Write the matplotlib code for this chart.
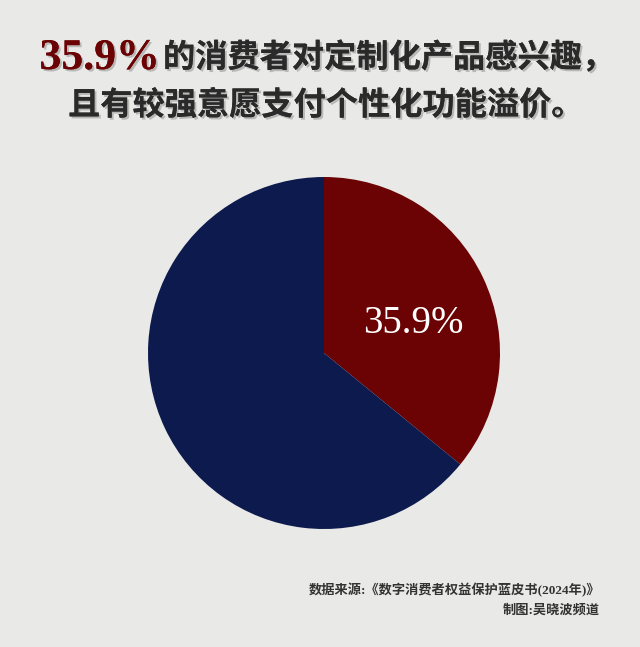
import matplotlib
matplotlib.use('Agg')
import matplotlib.pyplot as plt
import matplotlib.patheffects as pe

# share interested in customised products
labels = ['感兴趣', '其他']
shares = [35.9, 64.1]
colors = ['#6b0203', '#0d1a4d']

title_num = '35.9%'
title_rest = '的消费者对定制化产品感兴趣，'
title_line2 = '且有较强意愿支付个性化功能溢价。'
source = '数据来源:《数字消费者权益保护蓝皮书(2024年)》'
credit = '制图:吴晓波频道'

fonts = ['Liberation Serif', 'Noto Sans CJK SC', 'DejaVu Sans']
bg = '#e9e9e7'

fig = plt.figure(figsize=(6.4, 6.47), dpi=100)
fig.patch.set_facecolor(bg)

shadow = [pe.withSimplePatchShadow(offset=(1.5, -1.5), shadow_rgbFace='#888888', alpha=0.5), pe.Normal()]

# title, first line in two colours
fig.text(160/640, 1 - 58/647, title_num, color='#6b0203', fontsize=31.5, fontweight='bold',
         family=fonts, ha='right', va='center', path_effects=shadow)
fig.text(163/640, 1 - 58/647, title_rest, color='#2a2a2a', fontsize=23.2, fontweight='bold',
         family=fonts, ha='left', va='center', path_effects=shadow)
fig.text(326/640, 1 - 106/647, title_line2, color='#2a2a2a', fontsize=23.2, fontweight='bold',
         family=fonts, ha='center', va='center', path_effects=shadow)

# pie
ax = fig.add_axes([148/640, 1 - 529/647, 352/640, 352/647])
ax.set_facecolor(bg)
wedges, _ = ax.pie(shares, colors=colors, startangle=90, counterclock=False,
                   wedgeprops=dict(linewidth=0))
ax.set_xlim(-1, 1)
ax.set_ylim(-1, 1)
ax.set_aspect('equal')
ax.text(0.51, 0.17, f'{shares[0]}%', color='white', fontsize=28, family=fonts,
        ha='center', va='center')

# footer
fig.text(600/640, 1 - 590/647, source, color='#333333', fontsize=9.5, fontweight='bold',
         family=fonts, ha='right', va='center')
fig.text(600/640, 1 - 611/647, credit, color='#333333', fontsize=9.5, fontweight='bold',
         family=fonts, ha='right', va='center')

fig.savefig('out.png', dpi=100, facecolor=bg)
